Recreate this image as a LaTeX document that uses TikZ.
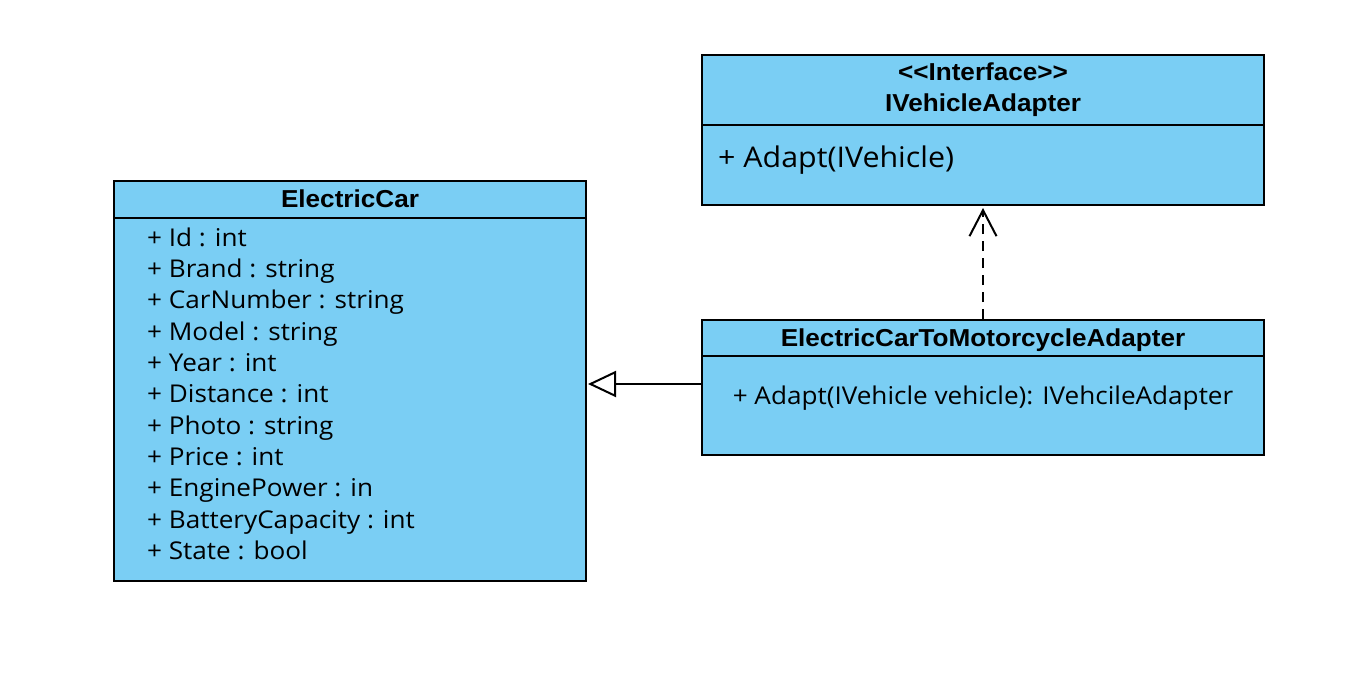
\documentclass[tikz,border=0pt]{standalone}
\usepackage{fontspec}
\usepackage{graphicx}
\usetikzlibrary{arrows.meta}
\newfontfamily\hdrfont{Liberation Sans}
\newfontfamily\bodyfont{Open Sans}
\definecolor{umlblue}{HTML}{7ACEF4}
\newcommand{\wide}[1]{\scalebox{1.066}[1]{#1}}
\tikzset{
  classbox/.style={draw=black, fill=umlblue, line width=2pt, inner sep=0pt},
  sepline/.style={draw=black, line width=2pt},
  hdr/.style={font=\hdrfont\bfseries\fontsize{24.5}{28}\selectfont, inner sep=0pt, anchor=base},
  attr/.style={font=\bodyfont\fontsize{24.5}{28}\selectfont, inner sep=0pt, anchor=base west},
  meth/.style={font=\bodyfont\fontsize{24.5}{28}\selectfont, inner sep=0pt, anchor=base},
  gen/.style={line width=2pt, -{Triangle[open, length=28pt, width=26pt, line width=2pt]}},
  dep/.style={line width=2pt, dash pattern=on 10pt off 7pt, -{Straight Barb[length=26pt, width=27pt, line width=2pt]}},
}
\begin{document}
\begin{tikzpicture}[x=1pt, y=-1pt]
\useasboundingbox (0,0) rectangle (1371,685);
% ElectricCar
\node[classbox, minimum width=472pt, minimum height=400pt] (ec) at (350,381) {};
\draw[sepline] (114,218) -- (586,218);
\node[hdr] (echdr) at (350,207) {\wide{ElectricCar}};
\node[attr] (a1) at (147,246) {\wide{+ Id : int}};
\node[attr] (a2) at (147,277) {\wide{+ Brand : string}};
\node[attr] (a3) at (147,308) {\wide{+ CarNumber : string}};
\node[attr] (a4) at (147,340) {\wide{+ Model : string}};
\node[attr] (a5) at (147,371) {\wide{+ Year : int}};
\node[attr] (a6) at (147,402) {\wide{+ Distance : int}};
\node[attr] (a7) at (147,434) {\wide{+ Photo : string}};
\node[attr] (a8) at (147,465) {\wide{+ Price : int}};
\node[attr] (a9) at (147,496) {\wide{+ EnginePower : in}};
\node[attr] (a10) at (147,528) {\wide{+ BatteryCapacity : int}};
\node[attr] (a11) at (147,559) {\wide{+ State : bool}};
% IVehicleAdapter
\node[classbox, minimum width=562pt, minimum height=150pt] (iface) at (983,130) {};
\draw[sepline] (702,125) -- (1264,125);
\node[hdr] (ifst) at (983,81) {\wide{<<Interface>>}};
\node[hdr] (ifname) at (983,111) {\wide{IVehicleAdapter}};
\node[attr, font=\bodyfont\fontsize{28.5}{32}\selectfont] (ifm) at (718,167) {\wide{+ Adapt(IVehicle)}};
% Adapter
\node[classbox, minimum width=562pt, minimum height=135pt] (adp) at (983,387.5) {};
\draw[sepline] (702,356) -- (1264,356);
\node[hdr] (adname) at (983,346) {\wide{ElectricCarToMotorcycleAdapter}};
\node[meth] (adm) at (983,404) {\wide{+ Adapt(IVehicle vehicle): IVehcileAdapter}};
% connectors
\draw[dep] (adp.north) -- ([yshift=-2pt]iface.south);
\draw[gen] ([yshift=3.5pt]adp.west) -- ([yshift=-3pt, xshift=1pt]ec.east);
\end{tikzpicture}
\end{document}
